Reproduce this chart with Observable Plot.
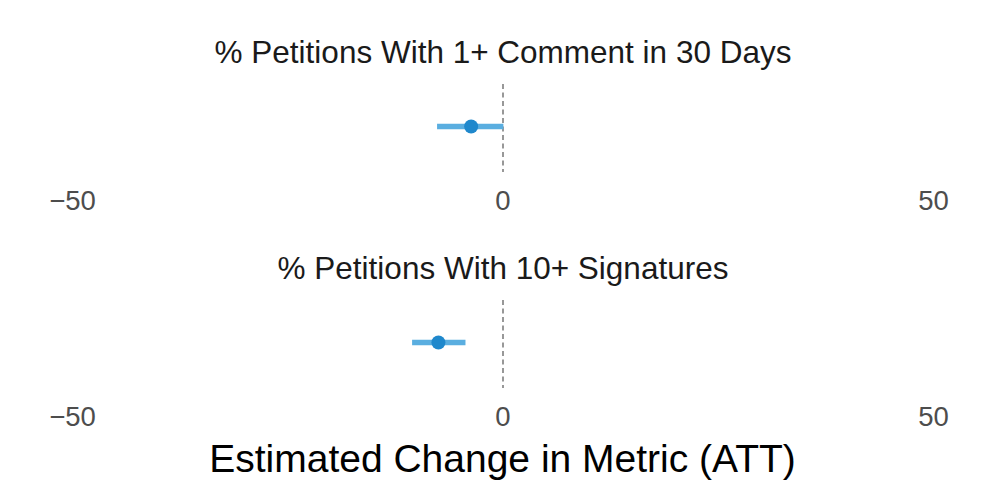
<!DOCTYPE html>
<html>
<head>
<meta charset="utf-8">
<script src="https://cdn.jsdelivr.net/npm/d3@7"></script>
<script src="https://cdn.jsdelivr.net/npm/@observablehq/plot@0.6"></script>
<style>
  html, body { margin: 0; padding: 0; background: #fff; }
  body { width: 996px; height: 498px; overflow: hidden; font-family: "Liberation Sans", Arial, sans-serif; }
  #chart svg { display: block; }
  #xlabel { margin-left: 72px; width: 861px; text-align: center; font-size: 39px; color: #000; line-height: 38px; margin-top: 0px; }
</style>
</head>
<body>
<div id="chart"></div>
<div id="xlabel">Estimated Change in Metric (ATT)</div>
<script>
const metrics = ["% Petitions With 1+ Comment in 30 Days", "% Petitions With 10+ Signatures"];
const estimates = [-3.7, -7.5];
const lower = [-7.6, -10.5];
const upper = [0.1, -4.3];
const xTicks = [-50, 0, 50];

const rows = metrics.map((m, i) => ({metric: m, est: estimates[i], lo: lower[i], hi: upper[i]}));

const chart = Plot.plot({
  width: 996,
  height: 440,
  marginLeft: 72,
  marginRight: 63,
  marginTop: 83,
  marginBottom: 52,
  style: {fontFamily: "'Liberation Sans', Arial, sans-serif", background: "#fff"},
  x: {domain: [-50, 50], axis: null},
  y: {domain: [-1, 1], axis: null},
  fy: {domain: metrics, axis: null, padding: 0.593},
  marks: [
    Plot.ruleX([0], {stroke: "#7f7f7f", strokeWidth: 1.6, strokeDasharray: "5,3.5"}),
    Plot.axisX({ticks: xTicks, tickSize: 0, tickPadding: 18, fontSize: 27.5, color: "#4d4d4d", facetAnchor: null, label: null}),
    Plot.ruleY(rows, {fy: "metric", x1: "lo", x2: "hi", y: () => 0, dy: -2, stroke: "#5aaee0", strokeWidth: 5.5}),
    Plot.dot(rows, {fy: "metric", x: "est", y: () => 0, dy: -2, r: 7, fill: "#1f88cc", stroke: "none"}),
    Plot.text(rows, {fy: "metric", text: "metric", frameAnchor: "top", lineAnchor: "middle", dy: -32, fontSize: 31.5, fill: "#1a1a1a"})
  ]
});
document.getElementById("chart").appendChild(chart);
</script>
</body>
</html>
